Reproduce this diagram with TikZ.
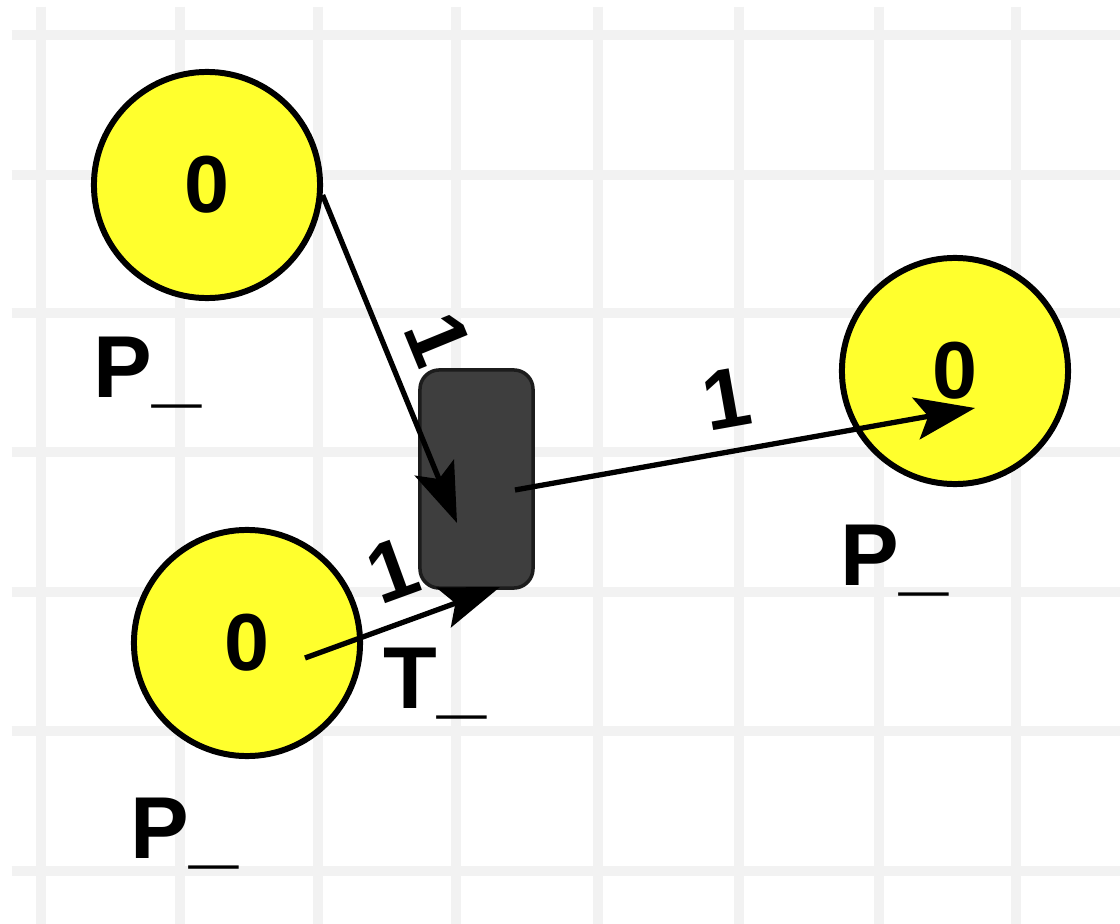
\documentclass[tikz,border=0pt]{standalone}
\usepackage{fontspec}
\setmainfont{Liberation Sans}
\usetikzlibrary{arrows.meta}
\definecolor{gridc}{RGB}{242,242,242}
\definecolor{placey}{RGB}{255,255,45}
\definecolor{transf}{RGB}{62,62,62}
\definecolor{transd}{RGB}{28,28,28}
\begin{document}
\begin{tikzpicture}[x=0.01cm,y=-0.01cm,
  gridline/.style={draw=gridc,line width=0.1cm},
  place/.style={circle,draw=black,fill=placey,line width=1.7pt,inner sep=0pt,minimum size=2.26cm,
    font=\bfseries\fontsize{23pt}{26pt}\selectfont},
  trans/.style={rectangle,rounded corners=5.5pt,draw=transd,fill=transf,line width=1pt,inner sep=0pt,
    minimum width=1.13cm,minimum height=2.18cm},
  arc/.style={draw=black,line width=1.5pt,-{Stealth[length=17pt,width=12pt,inset=3.5pt]}},
  lab/.style={font=\bfseries\fontsize{24pt}{26pt}\selectfont,sloped,above=6pt,inner sep=0pt},
  plab/.style={font=\bfseries\fontsize{25pt}{28pt}\selectfont,inner sep=0pt,anchor=base west}]
\useasboundingbox (0,0) rectangle (1120,924);
\fill[white] (0,0) rectangle (1120,924);
\foreach \x in {41,180,318,456,598,739,879,1016} \draw[gridline] (\x,7) -- (\x,924);
\foreach \y in {35,175,313,452,592,731,871} \draw[gridline] (12,\y) -- (1120,\y);
% places
\node[place] (p1) at (207,185) {0};
\node[place] (p2) at (955,371) {0};
\node[place] (p3) at (247,643) {0};
% transition
\node[trans] (t1) at (476.5,479) {};
% labels
\node[plab] (lp1) at (93,397) {P\_};
\node[plab] (lp2) at (840,585) {P\_};
\node[plab] (lp3) at (130,858) {P\_};
\node[plab] (lt1) at (383,708) {T\_};
% arcs
\coordinate (e1) at (457,523);
\coordinate (s2) at (305,658);
\coordinate (e2) at (500,587);
\coordinate (s3) at (515,490);
\coordinate (e3) at (975,408);
\draw[arc] (p1.-5) -- node[lab,pos=0.5] (w1) {1} (e1);
\draw[arc] (s2) -- node[lab,pos=0.54] (w2) {1} (e2);
\draw[arc] (s3) -- node[lab,pos=0.48] (w3) {1} (e3);
\end{tikzpicture}
\end{document}
